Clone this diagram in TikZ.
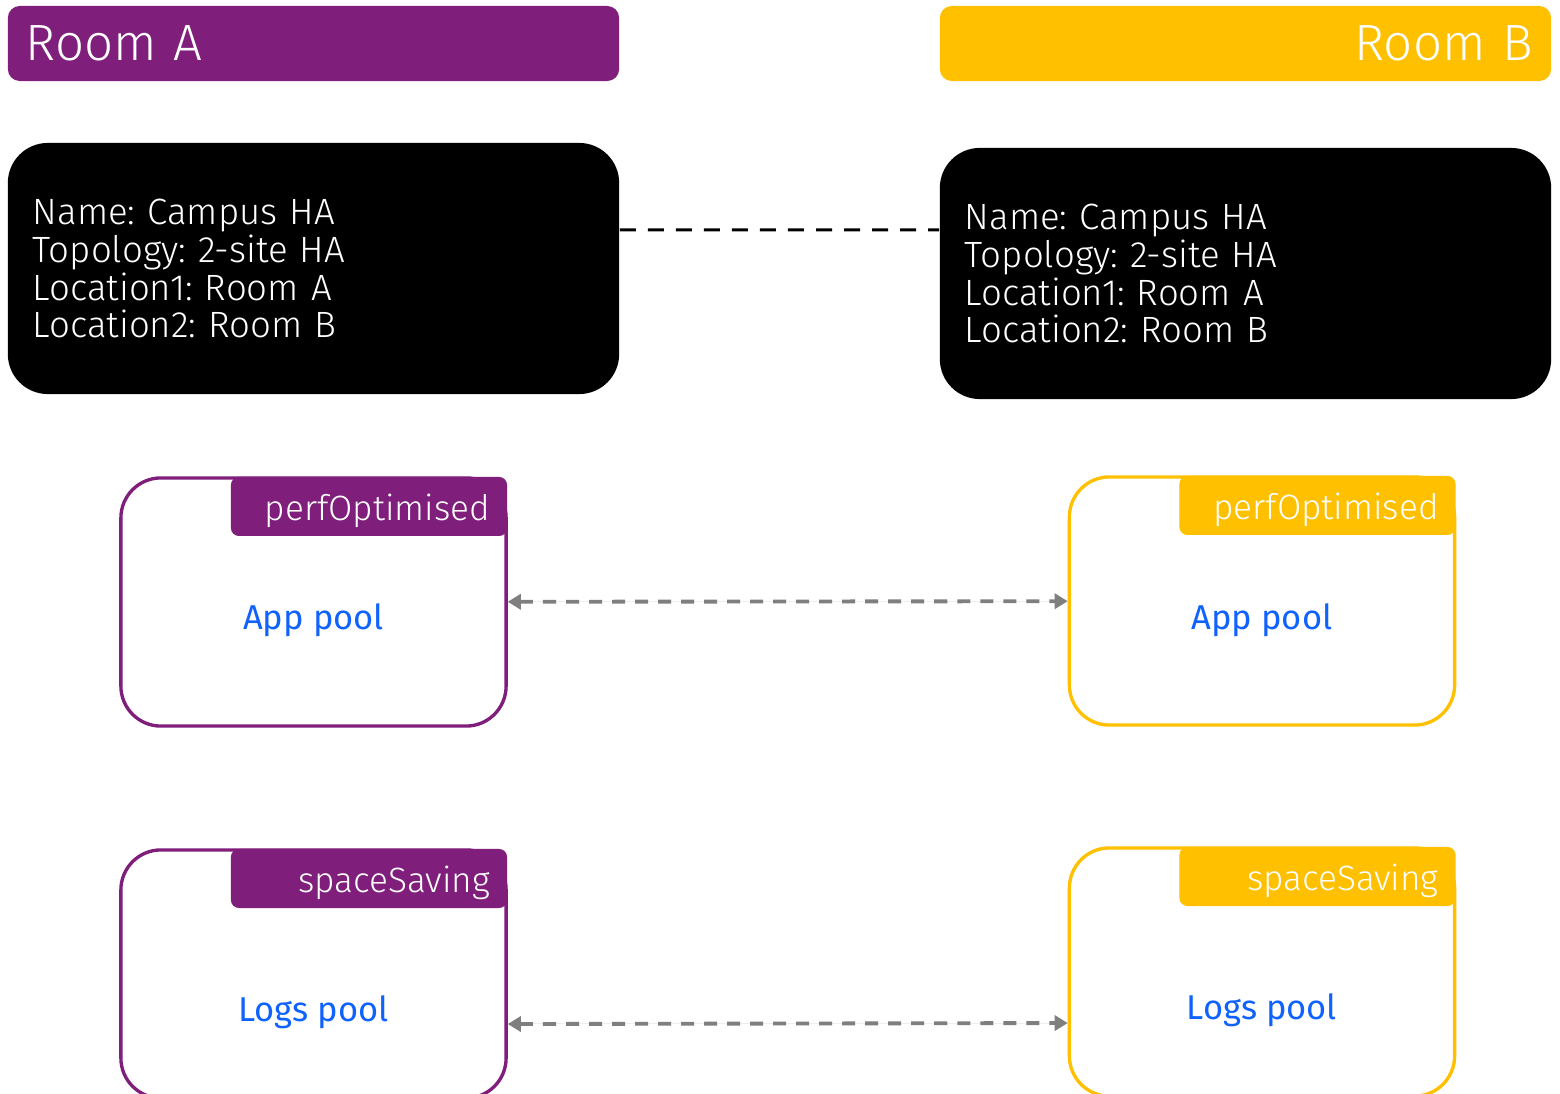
\documentclass[tikz,border=0pt]{standalone}
\usepackage{fontspec}
\setmainfont{Fira Sans}
\newfontfamily\lightfont{Fira Sans Light}
\usetikzlibrary{arrows.meta}
\frenchspacing
\definecolor{roomApurple}{HTML}{801E7C}
\definecolor{roomByellow}{HTML}{FFC000}
\definecolor{poolblue}{HTML}{0F62FE}
\definecolor{syncgray}{HTML}{7F7F7F}
\tikzset{
  roombar/.style={rounded corners=0.12cm, minimum height=0.75cm, text width=5.75cm, inner xsep=0.18cm, text=white, font=\lightfont\fontsize{14.5}{17}\selectfont},
  infobox/.style={fill=black, rounded corners=0.4cm, minimum height=2.51cm, text width=5.61cm, inner xsep=0.25cm, align=left, text=white, font=\lightfont\fontsize{10.4}{10.8}\selectfont},
  poolbox/.style={draw=#1, line width=0.95pt, fill=white, rounded corners=0.4cm, minimum width=3.85cm, minimum height=2.48cm},
  pooltag/.style={fill=#1, rounded corners=0.08cm, minimum height=0.59cm, inner ysep=0pt, text height=0.36cm, text width=2.42cm, inner xsep=0.17cm, align=right, text=white, font=\lightfont\fontsize{10}{12}\selectfont},
  poollabel/.style={text=poolblue, font=\fontsize{9.8}{12}\selectfont},
  syncarrow/.style={{Triangle[length=0.13cm,width=0.15cm]}-{Triangle[length=0.13cm,width=0.15cm]}, draw=syncgray, fill=syncgray, line width=1.1pt, dash pattern=on 0.13cm off 0.1cm},
  linkline/.style={line width=0.85pt, dash pattern=on 0.16cm off 0.12cm}
}
\begin{document}
\begin{tikzpicture}[x=0.01cm, y=-0.01cm]
\clip (0,0) rectangle (1560,1094);
\fill[white] (0,0) rectangle (1560,1094);
\node[roombar, fill=roomApurple, align=left] (roomA) at (313.5,43.5) {Room A};
\node[roombar, fill=roomByellow, align=right] (roomB) at (1245.5,43.5) {Room B};
\node[infobox] (infoA) at (313.5,268.5) {Name: Campus HA\\Topology: 2-site HA\\Location1: Room A\\Location2: Room B};
\node[infobox] (infoB) at (1245.5,273.5) {Name: Campus HA\\Topology: 2-site HA\\Location1: Room A\\Location2: Room B};
\draw[linkline] ([yshift=0.385cm]infoA.east) -- ([yshift=0.435cm]infoB.west);
\node[poolbox=roomApurple] (appA) at (313.5,602) {};
\node[poolbox=roomByellow] (appB) at (1262,601) {};
\node[poolbox=roomApurple] (logsA) at (313.5,974) {};
\node[poolbox=roomByellow] (logsB) at (1262,972) {};
\node[pooltag=roomApurple, anchor=north east] (appAtag) at (appA.north east) {perfOptimised};
\node[pooltag=roomByellow, anchor=north east] (appBtag) at (appB.north east) {perfOptimised};
\node[pooltag=roomApurple, anchor=north east] (logsAtag) at (logsA.north east) {spaceSaving};
\node[pooltag=roomByellow, anchor=north east] (logsBtag) at (logsB.north east) {spaceSaving};
\node[poollabel] (appAlabel) at ([yshift=-0.18cm]appA.center) {App pool};
\node[poollabel] (appBlabel) at ([yshift=-0.19cm]appB.center) {App pool};
\node[poollabel] (logsAlabel) at ([yshift=-0.38cm]logsA.center) {Logs pool};
\node[poollabel] (logsBlabel) at ([yshift=-0.38cm]logsB.center) {Logs pool};
\draw[syncarrow] (appA) -- (appB);
\draw[syncarrow] ([yshift=-0.5cm]logsA.east) -- ([yshift=-0.51cm]logsB.west);
\end{tikzpicture}
\end{document}
